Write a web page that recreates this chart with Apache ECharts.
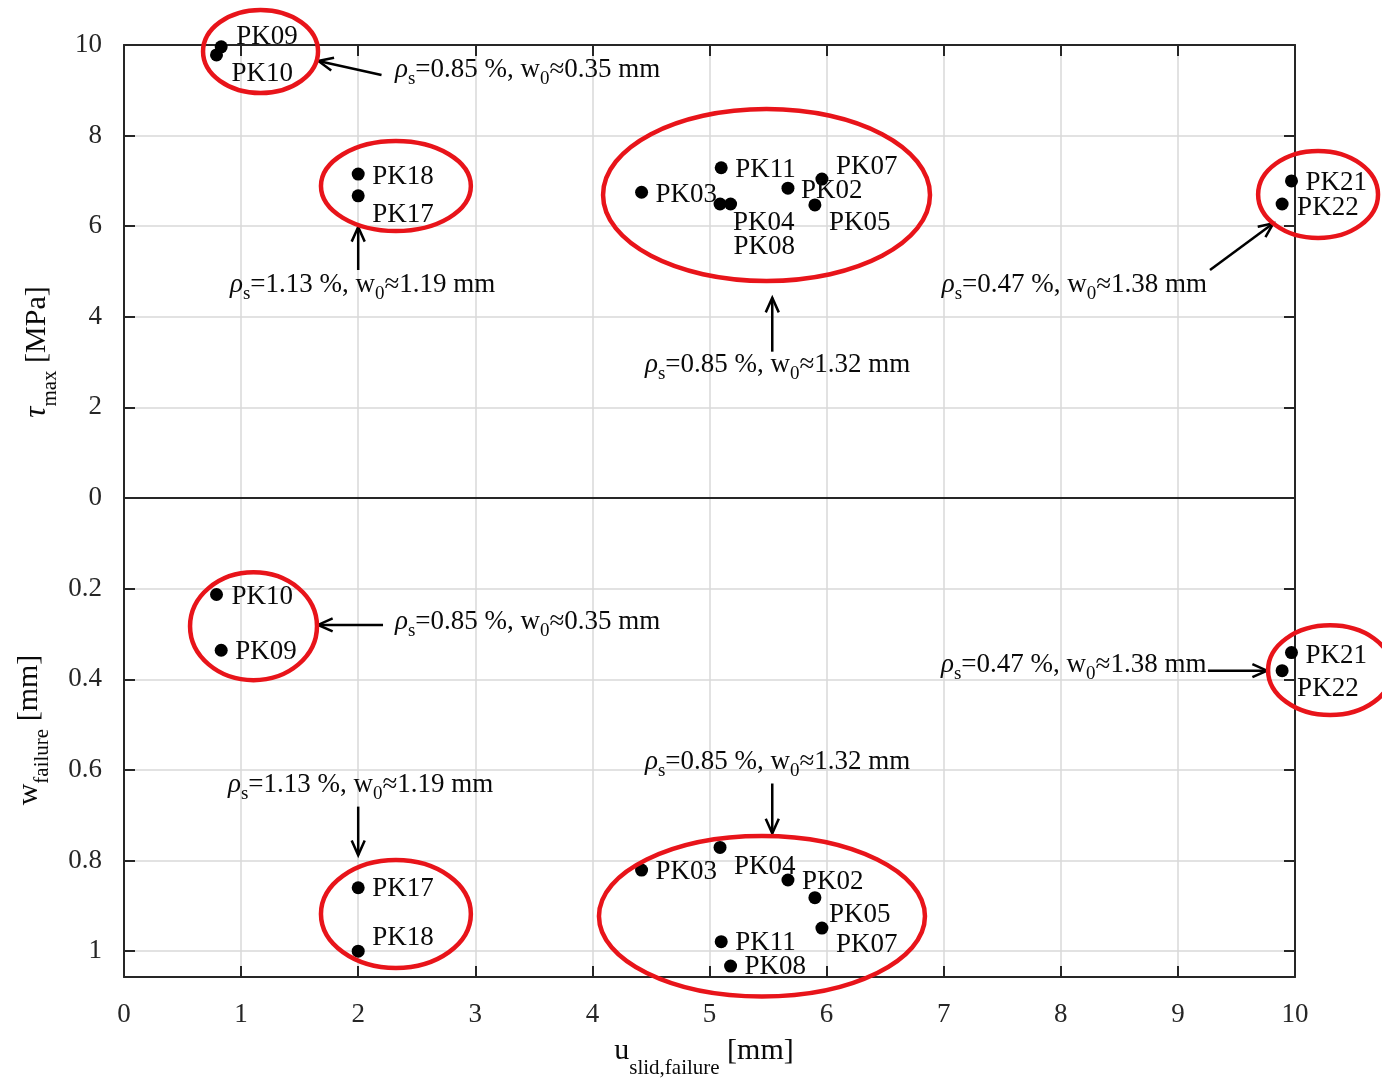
<!DOCTYPE html>
<html><head><meta charset="utf-8">
<script src="https://cdn.jsdelivr.net/npm/echarts@6/dist/echarts.min.js"></script>
<style>html,body{margin:0;padding:0;background:#fff}#c{width:1382px;height:1082px}</style>
</head><body><div id="c"></div>
<script>
// ---------------- data ----------------
const specimens    = ['PK02','PK03','PK04','PK05','PK07','PK08','PK09','PK10','PK11','PK17','PK18','PK21','PK22'];
const uSlidFailure = [5.67, 4.42, 5.09, 5.90, 5.96, 5.18, 0.83, 0.79, 5.10, 2.00, 2.00, 9.97, 9.89];
const tauMax       = [6.84, 6.75, 6.49, 6.47, 7.04, 6.49, 9.96, 9.78, 7.29, 6.67, 7.15, 7.00, 6.49];
const wFailure     = [0.843,0.821,0.771,0.882,0.949,1.033,0.336,0.213,0.979,0.860,1.000,0.341,0.381];
const xTicks   = [0,1,2,3,4,5,6,7,8,9,10];
const tauTicks = [0,2,4,6,8,10];
const wTicks   = [0.2,0.4,0.6,0.8,1];
const groupRho = ['0.85','1.13','0.85','0.47'];
const groupW0  = ['0.35','1.19','1.32','1.38'];

// ---------------- layout / style ----------------
const FONT = '"Liberation Serif", "Times New Roman", serif';
const AX = '#262626', GRIDC = '#d9d9d9', TXT = '#0a0a0a', RED = '#e8141a';
const labelPlaceTop = {PK09:[15,-10],PK10:[15,19],PK18:[14,3],PK17:[14,19],PK03:[14,3],PK11:[14,2],PK04:[13,19],PK08:[3,43],PK02:[13,3],PK07:[14,-12],PK05:[14,18],PK21:[14,2],PK22:[15,4]};
const labelPlaceBot = {PK10:[15,2],PK09:[14,2],PK17:[14,1],PK18:[14,-13],PK03:[14,2],PK04:[14,20],PK02:[14,2],PK05:[14,17],PK07:[14,17],PK11:[14,1],PK08:[14,1],PK21:[14,3],PK22:[15,18]};
// annotation geometry in data space: [series, group, textAnchor, arrowFrom, arrowTo]
const notes = [
  [0,0,[2.314,9.45],[2.199,9.338],[1.660,9.647]],
  [0,1,[0.905,4.70],[2.0,5.033],[2.0,5.982]],
  [0,2,[4.449,2.94],[5.536,3.23],[5.536,4.42]],
  [0,3,[6.983,4.70],[9.274,5.033],[9.815,6.064]],
  [1,0,[2.314,0.274],[2.212,0.280],[1.657,0.280]],
  [1,1,[0.888,0.634],[2.0,0.681],[2.0,0.788]],
  [1,2,[4.449,0.582],[5.536,0.630],[5.536,0.740]],
  [1,3,[6.977,0.369],[9.257,0.381],[9.761,0.381]]
];
// ellipses: [series, cx, cy, rx, ry] in data units
const rings = [
  [0,1.166,9.857,0.491,0.916],[0,2.322,6.887,0.640,0.993],[0,5.487,6.689,1.396,1.898],[0,10.197,6.70,0.512,0.960],
  [1,1.106,0.283,0.542,0.119],[1,2.322,0.918,0.640,0.119],[1,5.448,0.923,1.392,0.177],[1,10.30,0.380,0.53,0.099]
];

function near(list, v){ return list.some(t => Math.abs(t - v) < 1e-6); }
function xAx(gi, pos, ticks, labels, split){
  return {type:'value', gridIndex:gi, position:pos, min:0, max:10, interval:1,
    axisLine:{show:true,onZero:false,lineStyle:{color:AX,width:2}},
    axisTick:{show:ticks,inside:true,length:11,lineStyle:{color:AX,width:2}},
    axisLabel:{show:labels,margin:24,fontFamily:FONT,fontSize:27,color:AX,formatter:v=>near(xTicks,v)?String(v):''},
    splitLine:{show:split,lineStyle:{color:GRIDC,width:1.5}}};
}
function yAx(gi, pos, min, max, interval, inverse, labels, split, ticksList){
  return {type:'value', gridIndex:gi, position:pos, min, max, interval, inverse,
    axisLine:{show:true,onZero:false,lineStyle:{color:AX,width:2}},
    axisTick:{show:true,inside:true,length:11,lineStyle:{color:AX,width:2}},
    axisLabel:{show:labels,margin:22,fontFamily:FONT,fontSize:27,color:AX,formatter:v=>near(ticksList,v)?String(v):''},
    splitLine:{show:split,lineStyle:{color:GRIDC,width:1.5}}};
}
function mkData(yVals, place){
  return specimens.map((n,i)=>({name:n, value:[uSlidFailure[i], yVals[i]],
    label:{offset:[place[n][0]-6.5, place[n][1]]}}));
}
const labelStyle = {show:true, position:'right', distance:0, formatter:'{b}', fontFamily:FONT, fontSize:27, color:TXT, opacity:1};

const chart = echarts.init(document.getElementById('c'), null, {renderer:'canvas'});
chart.setOption({
  animation:false, backgroundColor:'#fff',
  grid:[{left:124,top:45,width:1171,height:453},{left:124,top:498,width:1171,height:479}],
  xAxis:[xAx(0,'top',true,false,true), xAx(0,'bottom',false,false,false),
         xAx(1,'bottom',true,true,true), xAx(1,'top',false,false,false)],
  yAxis:[yAx(0,'left',0,10,2,false,true,true,tauTicks), yAx(0,'right',0,10,2,false,false,false,tauTicks),
         yAx(1,'left',0,1.057,0.2,true,true,true,wTicks), yAx(1,'right',0,1.057,0.2,true,false,false,wTicks)],
  series:[
    {type:'scatter', xAxisIndex:0, yAxisIndex:0, symbol:'circle', symbolSize:13, clip:false,
     itemStyle:{color:'#000',opacity:1}, label:labelStyle, emphasis:{disabled:true}, data:mkData(tauMax,labelPlaceTop)},
    {type:'scatter', xAxisIndex:2, yAxisIndex:2, symbol:'circle', symbolSize:13, clip:false,
     itemStyle:{color:'#000',opacity:1}, label:labelStyle, emphasis:{disabled:true}, data:mkData(wFailure,labelPlaceBot)}
  ]
});

const px = (si, p) => chart.convertToPixel({seriesIndex:si}, p);
const g = [];
const richNote = {
  r:{fontFamily:FONT,fontSize:27,fontStyle:'italic',fill:TXT},
  n:{fontFamily:FONT,fontSize:27,fill:TXT},
  s:{fontFamily:FONT,fontSize:19,fill:TXT,padding:[18,0,0,0]}
};
notes.forEach(([si,gi,at,from,to])=>{
  const a = px(si,at), f = px(si,from), t = px(si,to);
  g.push({type:'text', x:a[0], y:a[1], z:20, style:{
    text:'{r|ρ}{s|s}{n|=' + groupRho[gi] + ' %, w}{s|0}{n|≈' + groupW0[gi] + ' mm}',
    rich:richNote, align:'left', verticalAlign:'middle'}});
  g.push({type:'line', z:20, shape:{x1:f[0],y1:f[1],x2:t[0],y2:t[1]}, style:{stroke:'#000',lineWidth:2.5}});
  const ang = Math.atan2(f[1]-t[1], f[0]-t[0]), L = 16, h = 0.42;
  g.push({type:'polyline', z:20, shape:{points:[
    [t[0]+L*Math.cos(ang+h), t[1]+L*Math.sin(ang+h)], [t[0],t[1]],
    [t[0]+L*Math.cos(ang-h), t[1]+L*Math.sin(ang-h)]]}, style:{stroke:'#000',lineWidth:2.5,fill:null}});
});
rings.forEach(([si,cx,cy,rx,ry])=>{
  const c = px(si,[cx,cy]), e1 = px(si,[cx+rx,cy]), e2 = px(si,[cx,cy+ry]);
  g.push({type:'ellipse', z:25, shape:{cx:c[0],cy:c[1],rx:Math.abs(e1[0]-c[0]),ry:Math.abs(e2[1]-c[1])},
    style:{stroke:RED,lineWidth:4.5,fill:null}});
});
// axis titles
const richTitle = {
  i:{fontFamily:FONT,fontSize:31,fontStyle:'italic',fill:TXT},
  n:{fontFamily:FONT,fontSize:30,fill:TXT},
  s:{fontFamily:FONT,fontSize:21,fill:TXT,padding:[26,0,0,0]},
  s2:{fontFamily:FONT,fontSize:21,fill:TXT,padding:[34,0,0,0]}
};
g.push({type:'text', x:37, y:352, rotation:Math.PI/2, z:20, style:{text:'{i|τ}{s|max}{n|\u00a0[MPa]}', rich:richTitle, align:'center', verticalAlign:'middle'}});
g.push({type:'text', x:29, y:730, rotation:Math.PI/2, z:20, style:{text:'{n|w}{s|failure}{n|\u00a0[mm]}', rich:richTitle, align:'center', verticalAlign:'middle'}});
g.push({type:'text', x:704, y:1051, z:20, style:{text:'{n|u}{s2|slid,failure}{n|\u00a0[mm]}', rich:richTitle, align:'center', verticalAlign:'middle'}});
chart.setOption({graphic:g});
</script>
</body></html>
